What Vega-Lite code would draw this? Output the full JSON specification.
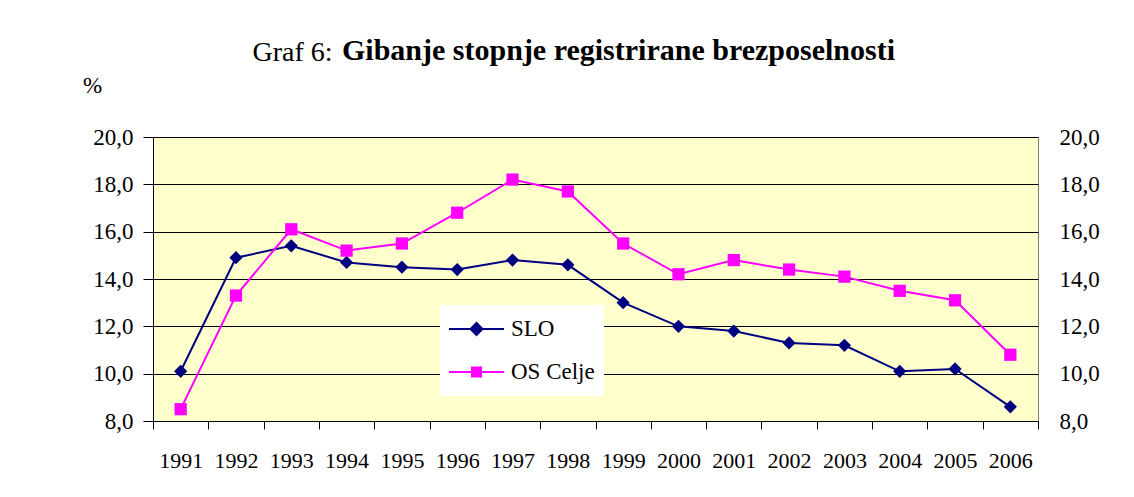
{
  "$schema": "https://vega.github.io/schema/vega-lite/v6.json",
  "width": 885,
  "height": 284,
  "autosize": {"type": "none"},
  "padding": {"left": 153, "top": 137, "right": 96, "bottom": 76},
  "background": "white",
  "config": {
    "font": "Liberation Serif",
    "view": {"fill": "#FFFFCC", "stroke": "#808080", "strokeWidth": 1}
  },
  "title": {
    "text": "Gibanje stopnje registrirane brezposelnosti",
    "anchor": "start",
    "frame": "group",
    "dx": 189,
    "dy": 62,
    "fontSize": 30,
    "fontWeight": "bold",
    "font": "Liberation Serif",
    "color": "black",
    "baseline": "alphabetic",
    "offset": 10
  },
  "data": {
    "values": [
      {"year": "1991", "series": "SLO", "value": 10.1},
      {"year": "1992", "series": "SLO", "value": 14.9},
      {"year": "1993", "series": "SLO", "value": 15.4},
      {"year": "1994", "series": "SLO", "value": 14.7},
      {"year": "1995", "series": "SLO", "value": 14.5},
      {"year": "1996", "series": "SLO", "value": 14.4},
      {"year": "1997", "series": "SLO", "value": 14.8},
      {"year": "1998", "series": "SLO", "value": 14.6},
      {"year": "1999", "series": "SLO", "value": 13.0},
      {"year": "2000", "series": "SLO", "value": 12.0},
      {"year": "2001", "series": "SLO", "value": 11.8},
      {"year": "2002", "series": "SLO", "value": 11.3},
      {"year": "2003", "series": "SLO", "value": 11.2},
      {"year": "2004", "series": "SLO", "value": 10.1},
      {"year": "2005", "series": "SLO", "value": 10.2},
      {"year": "2006", "series": "SLO", "value": 8.6},
      {"year": "1991", "series": "OS Celje", "value": 8.5},
      {"year": "1992", "series": "OS Celje", "value": 13.3},
      {"year": "1993", "series": "OS Celje", "value": 16.1},
      {"year": "1994", "series": "OS Celje", "value": 15.2},
      {"year": "1995", "series": "OS Celje", "value": 15.5},
      {"year": "1996", "series": "OS Celje", "value": 16.8},
      {"year": "1997", "series": "OS Celje", "value": 18.2},
      {"year": "1998", "series": "OS Celje", "value": 17.7},
      {"year": "1999", "series": "OS Celje", "value": 15.5},
      {"year": "2000", "series": "OS Celje", "value": 14.2},
      {"year": "2001", "series": "OS Celje", "value": 14.8},
      {"year": "2002", "series": "OS Celje", "value": 14.4},
      {"year": "2003", "series": "OS Celje", "value": 14.1},
      {"year": "2004", "series": "OS Celje", "value": 13.5},
      {"year": "2005", "series": "OS Celje", "value": 13.1},
      {"year": "2006", "series": "OS Celje", "value": 10.8}
    ]
  },
  "encoding": {
    "x": {
      "field": "year",
      "type": "ordinal",
      "scale": {"paddingInner": 0, "paddingOuter": 0},
      "axis": {
        "title": null,
        "labelAngle": 0,
        "labelFontSize": 22,
        "labelColor": "black",
        "labelFont": "Liberation Serif",
        "labelPadding": 21,
        "labelBaseline": "top",
        "tickBand": "extent",
        "tickSize": 8,
        "tickColor": "black",
        "domainColor": "black",
        "grid": false
      }
    }
  },
  "layer": [
    {
      "mark": {"type": "point", "filled": true, "opacity": 0},
      "encoding": {
        "y": {
          "field": "value",
          "type": "quantitative",
          "scale": {"domain": [8, 20], "nice": false, "zero": false},
          "axis": null
        },
        "color": {
          "field": "series",
          "type": "nominal",
          "scale": {"domain": ["SLO", "OS Celje"], "range": ["#000080", "#FF00FF"]},
          "legend": {
            "title": null,
            "orient": "none",
            "legendX": 287,
            "legendY": 168,
            "fillColor": "white",
            "padding": 9,
            "symbolSize": 3025,
            "symbolStrokeWidth": 0,
            "symbolOpacity": 1,
            "clipHeight": 30,
            "rowPadding": 13,
            "labelOffset": 7,
            "labelFontSize": 23,
            "labelFont": "Liberation Serif",
            "labelColor": "black"
          }
        },
        "shape": {
          "field": "series",
          "type": "nominal",
          "scale": {
            "domain": ["SLO", "OS Celje"],
            "range": [
              "M-1,-0.036H1V0.036H-1ZM-0.27,0L0,-0.27L0.27,0L0,0.27Z",
              "M-1,-0.036H1V0.036H-1ZM-0.2,-0.2H0.2V0.2H-0.2Z"
            ]
          },
          "legend": {
            "title": null,
            "orient": "none",
            "legendX": 287,
            "legendY": 168,
            "fillColor": "white",
            "padding": 9,
            "symbolSize": 3025,
            "symbolStrokeWidth": 0,
            "symbolOpacity": 1,
            "clipHeight": 30,
            "rowPadding": 13,
            "labelOffset": 7,
            "labelFontSize": 23,
            "labelFont": "Liberation Serif",
            "labelColor": "black"
          }
        }
      }
    },
    {
      "mark": {"type": "line", "strokeWidth": 2},
      "encoding": {
        "y": {
          "field": "value",
          "type": "quantitative",
          "scale": {"domain": [8, 20], "nice": false, "zero": false},
          "axis": {
            "title": "%",
            "titleAngle": 0,
            "titleX": -61,
            "titleY": -52,
            "titleAlign": "center",
            "titleBaseline": "middle",
            "titleFontSize": 23,
            "titleFontWeight": "normal",
            "titleColor": "black",
            "titleFont": "Liberation Serif",
            "values": [8, 10, 12, 14, 16, 18, 20],
            "labelExpr": "replace(format(datum.value, '.1f'), '.', ',')",
            "labelFontSize": 23,
            "labelColor": "black",
            "labelFont": "Liberation Serif",
            "labelPadding": 10,
            "tickSize": 10,
            "tickColor": "black",
            "domainColor": "black",
            "grid": true,
            "gridColor": "black",
            "gridOpacity": 1,
            "gridWidth": 1
          }
        },
        "color": {"field": "series", "type": "nominal"}
      }
    },
    {
      "transform": [{"filter": "datum.series === 'SLO'"}],
      "mark": {"type": "point", "filled": true, "opacity": 1, "shape": "diamond", "size": 175},
      "encoding": {
        "y": {
          "field": "value",
          "type": "quantitative",
          "scale": {"domain": [8, 20], "nice": false, "zero": false},
          "axis": {
            "orient": "right",
            "title": "Graf 6:",
            "titleAngle": 0,
            "titleX": -786,
            "titleY": -77,
            "titleAlign": "left",
            "titleBaseline": "alphabetic",
            "titleFontSize": 28,
            "titleFontWeight": "normal",
            "titleColor": "black",
            "titleFont": "Liberation Serif",
            "values": [8, 10, 12, 14, 16, 18, 20],
            "labelExpr": "replace(format(datum.value, '.1f'), '.', ',')",
            "labelFontSize": 23,
            "labelColor": "black",
            "labelFont": "Liberation Serif",
            "labelPadding": 21,
            "ticks": false,
            "tickSize": 0,
            "domain": false,
            "grid": false
          }
        },
        "color": {"field": "series", "type": "nominal"}
      }
    },
    {
      "transform": [{"filter": "datum.series === 'OS Celje'"}],
      "mark": {"type": "point", "filled": true, "opacity": 1, "shape": "square", "size": 150},
      "encoding": {
        "y": {
          "field": "value",
          "type": "quantitative",
          "scale": {"domain": [8, 20], "nice": false, "zero": false},
          "axis": null
        },
        "color": {"field": "series", "type": "nominal"}
      }
    }
  ],
  "resolve": {"axis": {"y": "independent"}}
}
